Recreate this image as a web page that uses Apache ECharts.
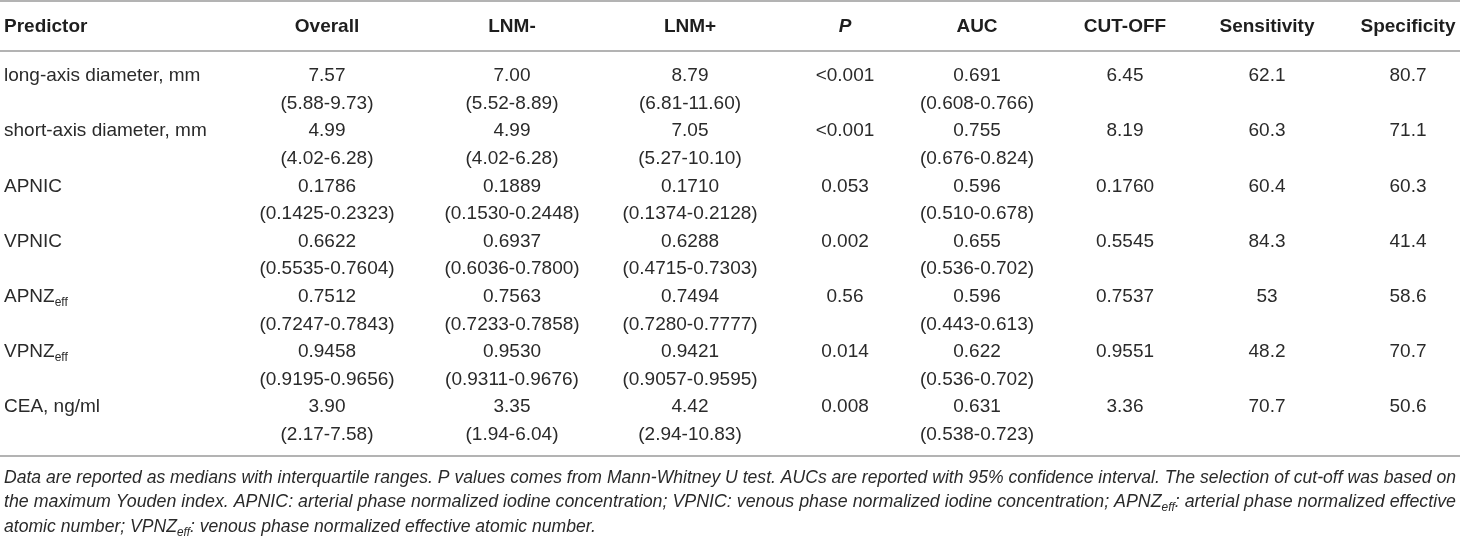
<!DOCTYPE html>
<html>
<head>
<meta charset="utf-8">
<script src="https://cdn.jsdelivr.net/npm/echarts@6/dist/echarts.min.js"></script>
<style>
  html, body { margin: 0; padding: 0; background: #fff; }
  #main { width: 1460px; height: 539px; }
</style>
</head>
<body>
<div id="main"></div>
<script>
// table content
var columns = ['Predictor', 'Overall', 'LNM-', 'LNM+', 'P', 'AUC', 'CUT-OFF', 'Sensitivity', 'Specificity'];
var predictors = ['long-axis diameter, mm', 'short-axis diameter, mm', 'APNIC', 'VPNIC', 'APNZ{s|eff}', 'VPNZ{s|eff}', 'CEA, ng/ml'];
var overallMedian = ['7.57', '4.99', '0.1786', '0.6622', '0.7512', '0.9458', '3.90'];
var overallIQR = ['(5.88-9.73)', '(4.02-6.28)', '(0.1425-0.2323)', '(0.5535-0.7604)', '(0.7247-0.7843)', '(0.9195-0.9656)', '(2.17-7.58)'];
var lnmNegMedian = ['7.00', '4.99', '0.1889', '0.6937', '0.7563', '0.9530', '3.35'];
var lnmNegIQR = ['(5.52-8.89)', '(4.02-6.28)', '(0.1530-0.2448)', '(0.6036-0.7800)', '(0.7233-0.7858)', '(0.9311-0.9676)', '(1.94-6.04)'];
var lnmPosMedian = ['8.79', '7.05', '0.1710', '0.6288', '0.7494', '0.9421', '4.42'];
var lnmPosIQR = ['(6.81-11.60)', '(5.27-10.10)', '(0.1374-0.2128)', '(0.4715-0.7303)', '(0.7280-0.7777)', '(0.9057-0.9595)', '(2.94-10.83)'];
var pValues = ['<0.001', '<0.001', '0.053', '0.002', '0.56', '0.014', '0.008'];
var auc = ['0.691', '0.755', '0.596', '0.655', '0.596', '0.622', '0.631'];
var aucCI = ['(0.608-0.766)', '(0.676-0.824)', '(0.510-0.678)', '(0.536-0.702)', '(0.443-0.613)', '(0.536-0.702)', '(0.538-0.723)'];
var cutOff = ['6.45', '8.19', '0.1760', '0.5545', '0.7537', '0.9551', '3.36'];
var sensitivity = ['62.1', '60.3', '60.4', '84.3', '53', '48.2', '70.7'];
var specificity = ['80.7', '71.1', '60.3', '41.4', '58.6', '70.7', '50.6'];
var footnote = [
  'Data are reported as medians with interquartile ranges. P values comes from Mann-Whitney U test. AUCs are reported with 95% confidence interval. The selection of cut-off was based on',
  'the maximum Youden index. APNIC: arterial phase normalized iodine concentration; VPNIC: venous phase normalized iodine concentration; APNZ{s|eff}: arterial phase normalized effective',
  'atomic number; VPNZ{s|eff}: venous phase normalized effective atomic number.'
];

// layout
var W = 1460, H = 539;
var FONT = "'Liberation Sans', Arial, Helvetica, sans-serif";
var colX = [4, 327, 512, 690, 845, 977, 1125, 1267, 1408];
var headerY = 27, firstRowY = 76, rowStep = 55.2, lineStep = 27.6;
var ruleY = [1, 51, 456];
var noteY = [478, 502, 527];
var bodySize = 19, noteSize = 18;

var chartDom = document.getElementById('main');
var myChart = echarts.init(chartDom);

// measure text so the footnote can be squeezed to the page width
var ctx = document.createElement('canvas').getContext('2d');
function measure(str, size, style) {
  var w = 0;
  str.split(/(\{s\|[^}]*\})/).forEach(function (p) {
    var m = p.match(/^\{s\|([^}]*)\}$/);
    if (m) {
      ctx.font = style + ' ' + Math.round(size * 0.65) + 'px ' + FONT;
      w += ctx.measureText(m[1]).width;
    } else if (p) {
      ctx.font = style + ' ' + size + 'px ' + FONT;
      w += ctx.measureText(p).width;
    }
  });
  return w;
}
var noteFull = W - 2 * colX[0];
var noteScale = footnote.map(function (t) { return noteFull / measure(t, noteSize, 'italic'); });
noteScale[2] = noteScale[0];

var texts = [];
var cells = [];
function addCell(x, y, str, kind, scale) {
  texts.push({ str: str, kind: kind, scale: scale || 1 });
  cells.push([x, y, texts.length - 1]);
}

columns.forEach(function (c, j) {
  addCell(colX[j], headerY, c, j === 0 ? 'headLeft' : (c === 'P' ? 'headItalic' : 'head'));
});

var pairs = [
  [overallMedian, overallIQR],
  [lnmNegMedian, lnmNegIQR],
  [lnmPosMedian, lnmPosIQR],
  [pValues, null],
  [auc, aucCI],
  [cutOff, null],
  [sensitivity, null],
  [specificity, null]
];
predictors.forEach(function (name, i) {
  var y1 = firstRowY + i * rowStep;
  addCell(colX[0], y1, name, 'left');
  pairs.forEach(function (pr, k) {
    addCell(colX[k + 1], y1, pr[0][i], 'body');
    if (pr[1]) addCell(colX[k + 1], y1 + lineStep, pr[1][i], 'body');
  });
});
footnote.forEach(function (t, i) {
  addCell(colX[0], noteY[i], t, 'note', noteScale[i]);
});

function textStyleFor(kind) {
  var s = {
    fill: '#2a2a2a',
    fontFamily: FONT,
    fontSize: bodySize,
    lineHeight: 24,
    align: 'center',
    verticalAlign: 'middle',
    rich: {
      s: { fontSize: 12, lineHeight: 12, verticalAlign: 'bottom', fontFamily: FONT, fill: '#2a2a2a' }
    }
  };
  if (kind === 'head' || kind === 'headLeft' || kind === 'headItalic') {
    s.fontWeight = 'bold';
    s.fill = '#1e1e1e';
  }
  if (kind === 'headItalic') s.fontStyle = 'italic';
  if (kind === 'headLeft' || kind === 'left' || kind === 'note') s.align = 'left';
  if (kind === 'note') {
    s.fontStyle = 'italic';
    s.fontSize = noteSize;
    s.rich.s.fontStyle = 'italic';
    s.rich.s.fontSize = Math.round(noteSize * 0.65);
  }
  return s;
}

option = {
  animation: false,
  grid: { left: 0, right: 0, top: 0, bottom: 0 },
  xAxis: { type: 'value', min: 0, max: W, show: false },
  yAxis: { type: 'value', min: 0, max: H, inverse: true, show: false },
  series: [
    {
      type: 'custom',
      clip: false,
      data: ruleY.map(function (y) { return [0, y]; }),
      renderItem: function (params, api) {
        var a = api.coord([0, api.value(1)]);
        var b = api.coord([W, api.value(1)]);
        return {
          type: 'line',
          shape: { x1: a[0], y1: a[1], x2: b[0], y2: b[1] },
          style: { stroke: '#9a9a9a', lineWidth: 1.6 }
        };
      }
    },
    {
      type: 'custom',
      clip: false,
      data: cells,
      renderItem: function (params, api) {
        var pt = api.coord([api.value(0), api.value(1)]);
        var t = texts[api.value(2)];
        var style = textStyleFor(t.kind);
        style.text = t.str;
        style.x = 0;
        style.y = 0;
        return {
          type: 'text',
          x: pt[0],
          y: pt[1],
          scaleX: t.scale,
          style: style
        };
      }
    }
  ]
};

option && myChart.setOption(option);
</script>
</body>
</html>
